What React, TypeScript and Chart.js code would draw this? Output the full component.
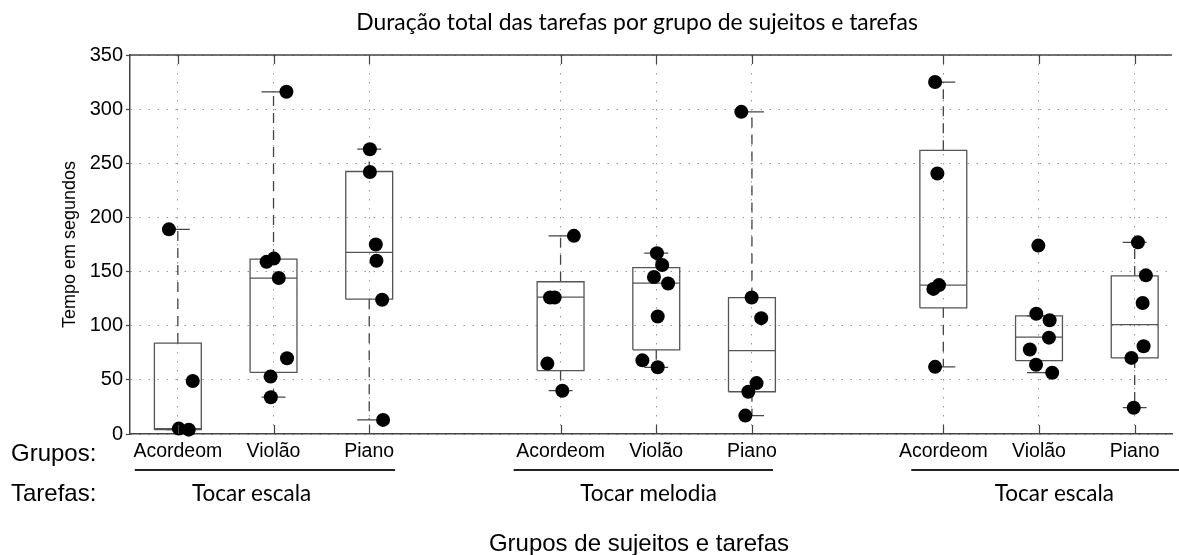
import { useEffect, useRef } from 'react';
import { Chart, registerables } from 'chart.js';

Chart.register(...registerables);

// ---------- data ----------
const categories = ['Acordeom', 'Violão', 'Piano', 'Acordeom', 'Violão', 'Piano', 'Acordeom', 'Violão', 'Piano'];
const positions = [1, 2, 3, 5, 6, 7, 9, 10, 11];
const tasks = ['Tocar escala', 'Tocar melodia', 'Tocar escala'];
const yTickStep = 50;
const yMin = 0;
const yMax = 350;

const q1 = [4, 57, 124.5, 58.6, 77.7, 39, 116.5, 67.8, 70.3];
const medians = [5, 144, 167.7, 126.4, 139.3, 77, 137.5, 89.4, 101];
const q3 = [84, 161.5, 242.4, 140.6, 153.6, 126, 262, 109.1, 146];
const whiskerLow = [4, 34, 13, 40, 61.6, 17, 62, 56.7, 24.3];
const whiskerHigh = [189, 316, 263, 183, 167, 297.5, 325, 109.1, 177];

const sAcordeomEscala = [189, 49, 5, 4];
const sViolaoEscala = [316, 159, 162, 144, 70, 53, 34];
const sPianoEscala = [263, 242, 175, 160, 124, 13];
const sAcordeomMelodia = [183, 126, 126, 65, 40];
const sViolaoMelodia = [167, 156, 145, 139, 108.5, 68, 61.6];
const sPianoMelodia = [297.5, 126, 107, 47, 39, 17];
const sAcordeomEscala2 = [325, 240.5, 137.5, 134, 62];
const sViolaoEscala2 = [174, 111, 105, 89, 78, 64, 56.5];
const sPianoEscala2 = [177, 146.5, 121, 81, 70.3, 24.3];

// horizontal jitter of each dot (category units)
const jAcordeomEscala = [-0.093, 0.156, 0.01, 0.114];
const jViolaoEscala = [0.135, -0.073, 0.003, 0.055, 0.141, -0.031, -0.028];
const jPianoEscala = [0.007, 0.007, 0.069, 0.076, 0.135, 0.145];
const jAcordeomMelodia = [0.139, -0.11, -0.062, -0.138, 0.018];
const jViolaoMelodia = [0.007, 0.062, -0.024, 0.124, 0.015, -0.145, 0.015];
const jPianoMelodia = [-0.111, -0.003, 0.097, 0.048, -0.038, -0.069];
const jAcordeomEscala2 = [-0.086, -0.062, -0.045, -0.104, -0.086];
const jViolaoEscala2 = [-0.007, -0.028, 0.111, 0.104, -0.096, -0.031, 0.138];
const jPianoEscala2 = [0.034, 0.117, 0.083, 0.093, -0.034, -0.01];

const samples = [sAcordeomEscala, sViolaoEscala, sPianoEscala, sAcordeomMelodia, sViolaoMelodia, sPianoMelodia, sAcordeomEscala2, sViolaoEscala2, sPianoEscala2];
const jitters = [jAcordeomEscala, jViolaoEscala, jPianoEscala, jAcordeomMelodia, jViolaoMelodia, jPianoMelodia, jAcordeomEscala2, jViolaoEscala2, jPianoEscala2];

const titleText = 'Duração total das tarefas por grupo de sujeitos e tarefas';
const yTitle = 'Tempo em segundos';
const xTitle = 'Grupos de sujeitos e tarefas';
const groupsLabel = 'Grupos:';
const tasksLabel = 'Tarefas:';

// ---------- styles / layout ----------
const HALF_BOX = 0.245;
const HALF_CAP = 0.125;
const X_MIN = 0.5;
const X_MAX = 11.39;
const FONT_SANS = '"Liberation Sans", Arial, Helvetica, sans-serif';
const FONT_HUM = 'Lato, "Open Sans", sans-serif';
const BOX_COLOR = '#555555';
const AXIS_COLOR = '#444444';
const GRID_COLOR = '#9a9a9a';
// underline spans and task label centres, in category units
const taskSpans = [[0.55, 3.27], [4.51, 7.22], [8.665, 11.5]];
const taskLabelAt = [1.77, 5.92, 10.16];

const gap = (x: number) => ({ x, y: null as any });

const boxData = positions.flatMap((p, i) => [
  { x: p - HALF_BOX, y: q1[i] },
  { x: p + HALF_BOX, y: q1[i] },
  { x: p + HALF_BOX, y: q3[i] },
  { x: p - HALF_BOX, y: q3[i] },
  { x: p - HALF_BOX, y: q1[i] },
  gap(p),
]);
const medianData = positions.flatMap((p, i) => [
  { x: p - HALF_BOX, y: medians[i] },
  { x: p + HALF_BOX, y: medians[i] },
  gap(p),
]);
const whiskerData = positions.flatMap((p, i) => [
  { x: p, y: q3[i] },
  { x: p, y: whiskerHigh[i] },
  gap(p),
  { x: p, y: q1[i] },
  { x: p, y: whiskerLow[i] },
  gap(p),
]);
const capData = positions.flatMap((p, i) => [
  { x: p - HALF_CAP, y: whiskerHigh[i] },
  { x: p + HALF_CAP, y: whiskerHigh[i] },
  gap(p),
  { x: p - HALF_CAP, y: whiskerLow[i] },
  { x: p + HALF_CAP, y: whiskerLow[i] },
  gap(p),
]);
const pointData = samples.flatMap((vals, i) => vals.map((v, j) => ({ x: positions[i] + jitters[i][j], y: v })));

const decorPlugin = {
  id: 'decor',
  afterDraw(chart: any) {
    const { ctx, chartArea: a } = chart;
    const x = chart.scales.x;
    ctx.save();
    // top border
    ctx.strokeStyle = AXIS_COLOR;
    ctx.lineWidth = 1.5;
    ctx.setLineDash([]);
    ctx.beginPath();
    ctx.moveTo(a.left, a.top);
    ctx.lineTo(a.right, a.top);
    ctx.stroke();
    // inward tick marks
    ctx.lineWidth = 1.2;
    positions.forEach((p) => {
      const px = Math.round(x.getPixelForValue(p)) + 0.5;
      ctx.beginPath();
      ctx.moveTo(px, a.bottom);
      ctx.lineTo(px, a.bottom - 9);
      ctx.moveTo(px, a.top);
      ctx.lineTo(px, a.top + 9);
      ctx.stroke();
    });
    // task underlines
    ctx.strokeStyle = '#222';
    ctx.lineWidth = 2;
    taskSpans.forEach(([s, e]) => {
      ctx.beginPath();
      ctx.moveTo(x.getPixelForValue(s), 470);
      ctx.lineTo(Math.min(x.getPixelForValue(e), chart.width), 470);
      ctx.stroke();
    });
    // texts
    ctx.fillStyle = '#000';
    ctx.textBaseline = 'alphabetic';
    ctx.textAlign = 'center';
    ctx.font = `22.9px ${FONT_HUM}`;
    ctx.fillText(titleText, 637, 30);
    ctx.font = `22.5px ${FONT_HUM}`;
    tasks.forEach((t, i) => ctx.fillText(t, x.getPixelForValue(taskLabelAt[i]), 501));
    ctx.font = `24px ${FONT_SANS}`;
    ctx.fillText(xTitle, 639, 551);
    ctx.textAlign = 'left';
    ctx.fillText(groupsLabel, 11, 461);
    ctx.fillText(tasksLabel, 11, 501);
    ctx.restore();
  },
};

export default function App() {
  const ref = useRef<HTMLCanvasElement | null>(null);
  useEffect(() => {
    if (!ref.current) return;
    const chart = new Chart(ref.current, {
      type: 'scatter',
      data: {
        datasets: [
          {
            data: pointData,
            pointRadius: 7,
            pointBackgroundColor: '#000',
            pointBorderWidth: 0,
            showLine: false,
            clip: false as any,
          },
          {
            data: medianData,
            showLine: true,
            borderColor: BOX_COLOR,
            borderWidth: 1.3,
            pointRadius: 0,
          },
          {
            data: boxData,
            showLine: true,
            borderColor: BOX_COLOR,
            borderWidth: 1.3,
            pointRadius: 0,
            borderJoinStyle: 'miter',
          },
          {
            data: capData,
            showLine: true,
            borderColor: AXIS_COLOR,
            borderWidth: 1.3,
            pointRadius: 0,
          },
          {
            data: whiskerData,
            showLine: true,
            borderColor: AXIS_COLOR,
            borderWidth: 1.3,
            borderDash: [10, 7],
            pointRadius: 0,
          },
        ] as any,
      },
      options: {
        animation: false,
        responsive: false,
        events: [],
        layout: { padding: { top: 55, left: 0, right: 0, bottom: 0 } },
        plugins: {
          legend: { display: false },
          tooltip: { enabled: false },
          title: { display: false },
        },
        scales: {
          x: {
            type: 'linear',
            min: X_MIN,
            max: X_MAX,
            afterBuildTicks: (scale: any) => {
              scale.ticks = positions.map((v) => ({ value: v }));
            },
            afterFit: (scale: any) => {
              scale.height = 121;
            },
            ticks: {
              callback: (v: any) => {
                const i = positions.indexOf(Number(v));
                return i >= 0 ? categories[i] : '';
              },
              autoSkip: false,
              maxRotation: 0,
              padding: 6,
              color: '#000',
              font: { family: FONT_SANS, size: 19.5 },
            },
            grid: {
              color: GRID_COLOR,
              lineWidth: 1,
              drawTicks: false,
            },
            border: { display: true, color: AXIS_COLOR, width: 1.5, dash: [1.5, 7.5] },
          },
          y: {
            type: 'linear',
            min: yMin,
            max: yMax,
            afterFit: (scale: any) => {
              scale.width = 130;
            },
            ticks: {
              stepSize: yTickStep,
              padding: 3,
              color: '#000',
              font: { family: FONT_SANS, size: 20 },
            },
            grid: {
              color: GRID_COLOR,
              lineWidth: 1,
              drawTicks: true,
              tickLength: 4,
              tickColor: AXIS_COLOR,
              tickWidth: 1.2,
              tickBorderDash: [],
            },
            border: { display: true, color: AXIS_COLOR, width: 1.5, dash: [1.5, 7.5] },
            title: {
              display: true,
              text: yTitle,
              color: '#000',
              font: { family: FONT_SANS, size: 18 },
              padding: { top: 59, bottom: 0 },
            },
          },
        },
      } as any,
      plugins: [decorPlugin],
    });
    return () => chart.destroy();
  }, []);
  return (
    <div style={{ position: 'absolute', left: 0, top: 0, width: 1179, height: 555, background: '#fff' }}>
      <canvas ref={ref} width={1179} height={555} style={{ display: 'block' }} />
    </div>
  );
}
